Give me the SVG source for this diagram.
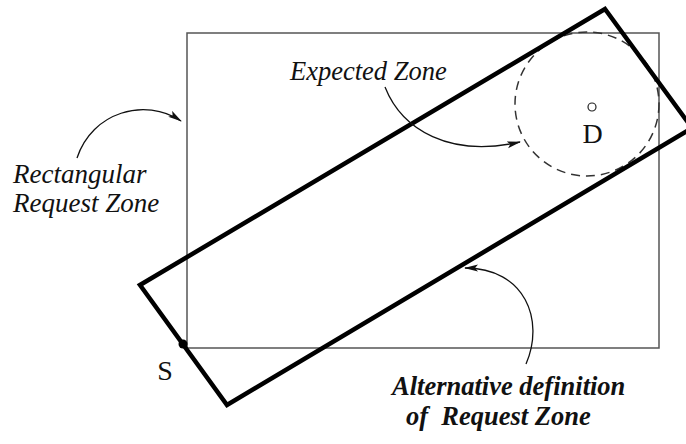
<svg xmlns="http://www.w3.org/2000/svg" width="686" height="444" viewBox="0 0 686 444">
<defs>
<style>
.lbl{font-family:"Liberation Serif","Times New Roman",serif;font-style:italic;fill:#111;font-size:26.5px;}
.bold{font-weight:bold;}
.mark{font-family:"Liberation Serif","Times New Roman",serif;fill:#111;}
.conn{fill:none;stroke:#111;stroke-width:1.3;}
</style>
<marker id="ah" viewBox="0 0 14 8" refX="13" refY="4" markerWidth="14" markerHeight="8" markerUnits="userSpaceOnUse" orient="auto">
<path d="M0,0.5 L14,4 L0,7.5 L3,4 Z" fill="#111"/>
</marker>
</defs>
<rect width="686" height="444" fill="#fff"/>
<g id="rect-zone">
<rect x="187" y="33" width="472" height="315" fill="none" stroke="#555" stroke-width="1.5"/>
</g>
<g id="expected-zone">
<circle cx="587" cy="104" r="72" fill="none" stroke="#333" stroke-width="1.5" stroke-dasharray="9,6"/>
</g>
<g id="alt-zone">
<polygon points="605,9 692,128 227,405 140,285" fill="none" stroke="#000" stroke-width="4.5" stroke-linejoin="miter"/>
</g>
<g id="node-D">
<circle cx="592" cy="107" r="4" fill="#fff" stroke="#222" stroke-width="1.2"/>
<text class="mark" x="592.5" y="143" font-size="28" text-anchor="middle">D</text>
</g>
<g id="node-S">
<circle cx="183" cy="344" r="4.5" fill="#000"/>
<text class="mark" x="165" y="380" font-size="28" text-anchor="middle">S</text>
</g>
<g id="connectors">
<path class="conn" d="M77,158 C92,112 145,97 181,121" marker-end="url(#ah)"/>
<path class="conn" d="M385,87 C402,130 450,158 520,142" marker-end="url(#ah)"/>
<path class="conn" d="M526,364 C545,320 525,268 465,268" marker-end="url(#ah)"/>
</g>
<g id="labels">
<text class="lbl" x="290" y="80">Expected Zone</text>
<text class="lbl" x="13" y="183" style="font-size:27px">Rectangular</text>
<text class="lbl" x="13" y="212" style="font-size:27px">Request Zone</text>
<text class="lbl bold" x="392" y="395">Alternative definition</text>
<text class="lbl bold" x="406" y="425" xml:space="preserve">of  Request Zone</text>
</g>
</svg>
